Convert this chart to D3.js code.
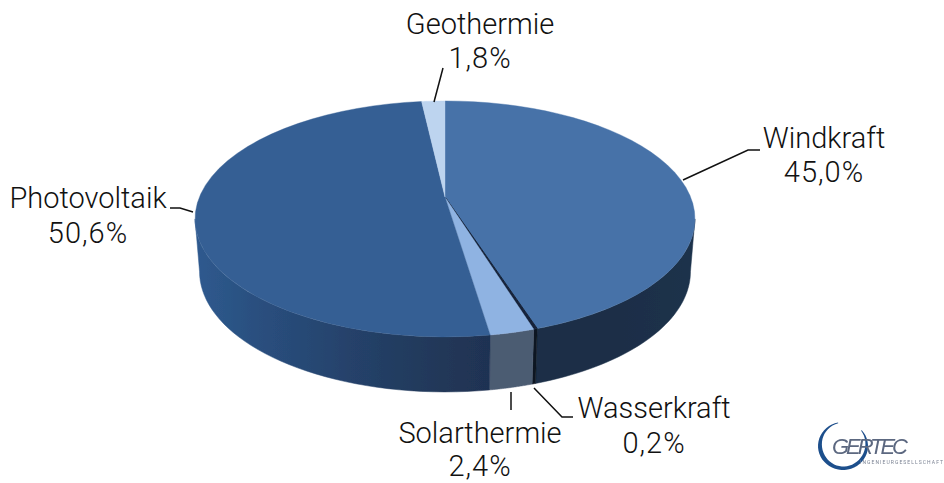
<!DOCTYPE html>
<html><head><meta charset="utf-8">
<script src="https://d3js.org/d3.v7.min.js"></script>
<style>html,body{margin:0;padding:0;background:#fff}svg{display:block}
text{font-family:Roboto,sans-serif;font-weight:300;fill:#111}</style></head>
<body><svg id="c" width="944" height="483"></svg>
<script>
// data, clockwise from 12 o'clock
const categories=["Windkraft","Wasserkraft","Solarthermie","Photovoltaik","Geothermie"];
const values=[45.0,0.2,2.4,50.6,1.8];
const valueLabels=["45,0%","0,2%","2,4%","50,6%","1,8%"];
const topColors=["#4672a8","#14233a","#8fb3e2","#365f94","#bdd4ef"];
const sideColors=["url(#gWind)","#0a1420","#4b5b72","url(#gPV)","#9ab"];

const svg=d3.select("#c");
const W=245.6,H=113.9,K=0.186,cx=445,cy=197,depth=52,shrink=0.982;
const TAU=2*Math.PI;
const pie=d3.pie().sort(null).value(d=>d)(values);
const proj=a=>{const u=Math.sin(a),v=Math.cos(a),d=1+K*v;return [cx+W*u/d,cy-H*v/d];};
const projLow=a=>{const p=proj(a);return [cx+(p[0]-cx)*shrink,p[1]+depth+3*Math.max(0,-Math.cos(a))];};
const line=d3.line();
const samples=(a0,a1,f)=>d3.range(0,41).map(i=>f(a0+(a1-a0)*i/40));

const defs=svg.append("defs");
function grad(id,stops){
  const g=defs.append("linearGradient").attr("id",id).attr("gradientUnits","userSpaceOnUse")
    .attr("x1",190).attr("x2",700).attr("y1",0).attr("y2",0);
  stops.forEach(s=>g.append("stop").attr("offset",s[0]).attr("stop-color",s[1]));
}
grad("gPV",[[0,"#2f5b90"],[0.12,"#2a5080"],[0.31,"#25426b"],[0.45,"#223a5c"],[0.59,"#1f3252"]]);
grad("gWind",[[0.68,"#1b2f47"],[0.85,"#1a2e47"],[1,"#1c324c"]]);
defs.append("filter").attr("id","soft").append("feGaussianBlur").attr("stdDeviation",0.6);
defs.append("filter").attr("id","logoBlur").append("feGaussianBlur").attr("stdDeviation",0.55);

const limA=Math.acos(-K),limB=TAU-limA;
const gPie=svg.append("g").attr("filter","url(#soft)");
pie.forEach((s,i)=>{
  const a0=Math.max(s.startAngle,limA),a1=Math.min(s.endAngle,limB);
  if(a1<=a0)return;
  const pts=samples(a0,a1,proj).concat(samples(a1,a0,projLow));
  gPie.append("path").attr("d",line(pts)+"Z").attr("fill",sideColors[i]).attr("stroke",sideColors[i]).attr("stroke-width",0.5);
});
pie.forEach((s,i)=>{
  const pts=[[cx,cy]].concat(samples(s.startAngle,s.endAngle,proj));
  gPie.append("path").attr("d",line(pts)+"Z").attr("fill",topColors[i]).attr("stroke",topColors[i]).attr("stroke-width",i==1?1:0.4);
});

// leader lines and labels
const leaders=[
 [[683,180],[748,150],[760,150]],
 [[534,388],[562,417],[573,417]],
 [[511,392],[511,410]],
 [[193,212],[180,208],[170,208]],
 [[434,102],[443,68]]];
const labelPos=[[824,148],[654,418],[480,443],[88,208],[480,34]];
const valueGap=[34,35,33,35,34];
const gL=svg.append("g");
leaders.forEach(l=>gL.append("path").attr("d",line(l)).attr("fill","none").attr("stroke","#111").attr("stroke-width",1.5));
categories.forEach((c,i)=>{
  const t=gL.append("text").attr("text-anchor","middle").attr("font-size",29);
  t.append("tspan").attr("x",labelPos[i][0]).attr("y",labelPos[i][1]).text(c);
  t.append("tspan").attr("x",labelPos[i][0]).attr("y",labelPos[i][1]+valueGap[i]).attr("letter-spacing",1).text(valueLabels[i]);
});

// logo: tapering C and lettering
const logo=svg.append("g").attr("filter","url(#logoBlur)");
const cOuter=t=>{const a=0.2+t*(TAU-0.2-0.65-0.2);return [843-25*Math.sin(a),446-24*Math.cos(a)];};
const cInner=t=>{const a=0.2+t*(TAU-0.2-0.65-0.2),w=1+4*Math.sin(Math.PI*t);return [843-(25-w)*Math.sin(a),446-(24-w*0.7)*Math.cos(a)];};
logo.append("path").attr("d",line(samples(0,1,cOuter).concat(samples(1,0,cInner)))+"Z").attr("fill","#1f4f8c");
logo.append("text").attr("x",832).attr("y",454).attr("font-size",22).attr("font-style","italic")
  .style("font-family","'Liberation Sans Narrow','Liberation Sans',sans-serif").style("font-weight",400).style("fill","#5c6880").attr("textLength",76).text("GERTEC");
logo.append("text").attr("x",860).attr("y",464).attr("font-size",5)
  .style("font-weight",400).style("fill","#7c8494").attr("textLength",83).text("INGENIEURGESELLSCHAFT");
</script></body></html>
